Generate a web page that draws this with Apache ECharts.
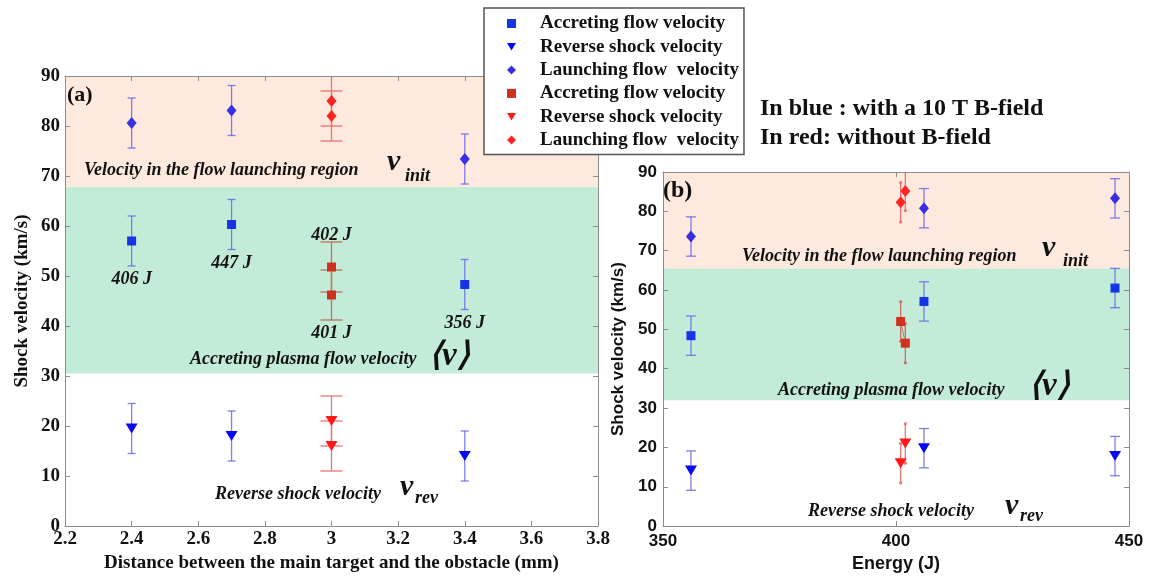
<!DOCTYPE html>
<html><head><meta charset="utf-8">
<script src="https://cdn.jsdelivr.net/npm/echarts@6/dist/echarts.min.js"></script>
<style>html,body{margin:0;padding:0;background:#fff}#c{width:1152px;height:578px}</style>
</head><body><div id="c"></div>
<script>
// ---------- Panel (a): shock velocity vs distance (mm) ----------
const distBlueA = [2.4, 2.7, 3.4];
const accBlueA  = [57.0, 60.3, 48.3];
const revBlueA  = [19.5, 18.0, 14.0];
const lauBlueA  = [80.6, 83.1, 73.4];
const energyLabelsBlueA = ['406 J', '447 J', '356 J'];
const distRedA  = [3.0, 3.0];
const accRedA   = [51.8, 46.2];
const revRedA   = [21.0, 16.0];
const lauRedA   = [85.0, 82.0];
const energyLabelsRedA = ['402 J', '401 J'];
// ---------- Panel (b): shock velocity vs energy (J) ----------
const energyBlueB = [356, 406, 447];
const accBlueB  = [48.4, 57.1, 60.5];
const revBlueB  = [14.1, 19.8, 17.8];
const lauBlueB  = [73.6, 80.8, 83.3];
const energyRedB = [401, 402];
const accRedB   = [52.0, 46.5];
const revRedB   = [16.0, 21.0];
const lauRedB   = [82.3, 85.2];
// error bar half-width (km/s), same for every point
const errorBar = 5;
// shaded velocity regions [from, to] in km/s
const launchRegionA = [67.8, 90];
const accretRegionA = [30.5, 67.8];
const launchRegionB = [65.5, 90];
const accretRegionB = [32.0, 65.5];
// legend names
const seriesNames = ['Accreting flow velocity', 'Reverse shock velocity', 'Launching flow  velocity'];
const redSuffix = ' [no field]';

const SERIF = '"Liberation Serif", "Times New Roman", serif';
const SANS = '"Liberation Sans", Arial, sans-serif';
const COL = {
  bAcc: '#1434e6', bRev: '#0808f2', bLau: '#3a2ee2',
  rAcc: '#d0301e', rRev: '#ff1818', rLau: '#ff2424',
  bErr: 'rgba(105,105,235,0.85)', rErr: '#f07272', rErrAcc: '#c47062',
  peach: '#fde9dd', green: '#c3ecd8', axis: '#8c8c8c'
};
const DOWN_TRI = 'path://M0,0L12,0L6,10Z';

const chart = echarts.init(document.getElementById('c'), null, {renderer: 'canvas'});

function pts(xs, ys) { return xs.map((x, i) => [x, ys[i]]); }
function errPts(xs, ys) { return xs.map((x, i) => [x, ys[i] - errorBar, ys[i] + errorBar]); }

function axisBase(extra) {
  return Object.assign({
    type: 'value', z: 3,
    axisLine: {show: true, onZero: false, lineStyle: {color: COL.axis, width: 1}},
    axisTick: {show: true, inside: true, length: 5, lineStyle: {color: COL.axis, width: 1}},
    splitLine: {show: false}
  }, extra);
}

function errSeries(xi, yi, data, color, capHalf, dots) {
  return {
    type: 'custom', xAxisIndex: xi, yAxisIndex: yi, data: data, z: 2, silent: true, clip: true,
    renderItem: function (params, api) {
      const x = api.value(0), lo = api.value(1), hi = api.value(2);
      const a = api.coord([x, hi]), b = api.coord([x, lo]);
      const cs = params.coordSys;
      const top = Math.max(a[1], cs.y), bot = Math.min(b[1], cs.y + cs.height);
      const st = {stroke: color, lineWidth: 1.3, fill: null};
      const ch = [{type: 'line', shape: {x1: a[0], y1: top, x2: b[0], y2: bot}, style: st}];
      if (capHalf) {
        if (a[1] >= cs.y) ch.push({type: 'line', shape: {x1: a[0] - capHalf, y1: a[1], x2: a[0] + capHalf, y2: a[1]}, style: st});
        ch.push({type: 'line', shape: {x1: b[0] - capHalf, y1: b[1], x2: b[0] + capHalf, y2: b[1]}, style: st});
      }
      if (dots) {
        if (a[1] >= cs.y) ch.push({type: 'circle', shape: {cx: a[0], cy: a[1], r: 1.6}, style: {fill: color}});
        ch.push({type: 'circle', shape: {cx: b[0], cy: b[1], r: 1.6}, style: {fill: color}});
      }
      return {type: 'group', children: ch};
    }
  };
}

const labelFont = {fontFamily: SERIF, fontStyle: 'italic', fontWeight: 'bold', fontSize: 18, color: '#151515'};

function scatter(name, xi, yi, data, symbol, size, color, rotate, extra) {
  return Object.assign({
    type: 'scatter', name: name, xAxisIndex: xi, yAxisIndex: yi, data: data, z: 4,
    symbol: symbol, symbolSize: size, symbolRotate: rotate || 0,
    itemStyle: {color: color, opacity: 1}, silent: true
  }, extra || {});
}

function bgSeries(xi, yi, launch, accret) {
  return {
    type: 'scatter', xAxisIndex: xi, yAxisIndex: yi, data: [], silent: true, z: 0,
    markArea: {
      silent: true,
      data: [
        [{yAxis: launch[0], itemStyle: {color: COL.peach}}, {yAxis: launch[1]}],
        [{yAxis: accret[0], itemStyle: {color: COL.green}}, {yAxis: accret[1]}]
      ]
    }
  };
}

const series = [
  bgSeries(0, 0, launchRegionA, accretRegionA),
  bgSeries(2, 2, launchRegionB, accretRegionB),
  // error bars panel (a)
  errSeries(0, 0, errPts(distBlueA, accBlueA).concat(errPts(distBlueA, revBlueA), errPts(distBlueA, lauBlueA)), COL.bErr, 4, false),
  errSeries(0, 0, errPts(distRedA, accRedA), COL.rErrAcc, 11, false),
  errSeries(0, 0, errPts(distRedA, revRedA).concat(errPts(distRedA, lauRedA)), COL.rErr, 11, false),
  // error bars panel (b)
  errSeries(2, 2, errPts(energyBlueB, accBlueB).concat(errPts(energyBlueB, revBlueB), errPts(energyBlueB, lauBlueB)), COL.bErr, 5, false),
  errSeries(2, 2, errPts(energyRedB, accRedB), COL.rErrAcc, 0, true),
  errSeries(2, 2, errPts(energyRedB, revRedB).concat(errPts(energyRedB, lauRedB)), COL.rErr, 0, true),
  // thin connecting line between red accreting points in panel (b)
  {type: 'line', xAxisIndex: 2, yAxisIndex: 2, data: pts(energyRedB, accRedB), showSymbol: false, silent: true, z: 2,
   lineStyle: {color: COL.rErrAcc, width: 1}},
  // panel (a) markers
  scatter(seriesNames[0], 0, 0, pts(distBlueA, accBlueA), 'rect', 9, COL.bAcc, 0, {
    label: Object.assign({show: true, position: 'bottom', distance: 25, formatter: p => energyLabelsBlueA[p.dataIndex]}, labelFont)
  }),
  scatter(seriesNames[1], 0, 0, pts(distBlueA, revBlueA), 'triangle', [12, 10], COL.bRev, 180),
  scatter(seriesNames[2], 0, 0, pts(distBlueA, lauBlueA), 'diamond', [10, 12], COL.bLau, 0),
  scatter(seriesNames[0] + redSuffix, 0, 0,
    distRedA.map((x, i) => ({value: [x, accRedA[i]], label: {position: i === 0 ? 'top' : 'bottom', distance: i === 0 ? 18 : 25}})),
    'rect', 9, COL.rAcc, 0, {
      label: Object.assign({show: true, formatter: p => energyLabelsRedA[p.dataIndex]}, labelFont)
    }),
  scatter(seriesNames[1] + redSuffix, 0, 0, pts(distRedA, revRedA), 'triangle', [12, 10], COL.rRev, 180),
  scatter(seriesNames[2] + redSuffix, 0, 0, pts(distRedA, lauRedA), 'diamond', [10, 12], COL.rLau, 0),
  // panel (b) markers
  scatter(seriesNames[0], 2, 2, pts(energyBlueB, accBlueB), 'rect', 9, COL.bAcc, 0),
  scatter(seriesNames[1], 2, 2, pts(energyBlueB, revBlueB), 'triangle', [12, 10], COL.bRev, 180),
  scatter(seriesNames[2], 2, 2, pts(energyBlueB, lauBlueB), 'diamond', [10, 12], COL.bLau, 0),
  scatter(seriesNames[0] + redSuffix, 2, 2, pts(energyRedB, accRedB), 'rect', 9, COL.rAcc, 0),
  scatter(seriesNames[1] + redSuffix, 2, 2, pts(energyRedB, revRedB), 'triangle', [12, 10], COL.rRev, 180),
  scatter(seriesNames[2] + redSuffix, 2, 2, pts(energyRedB, lauRedB), 'diamond', [10, 12], COL.rLau, 0)
];

const legendData = [];
['', redSuffix].forEach(suf => {
  legendData.push({name: seriesNames[0] + suf, icon: 'rect'});
  legendData.push({name: seriesNames[1] + suf, icon: DOWN_TRI});
  legendData.push({name: seriesNames[2] + suf, icon: 'diamond'});
});

const serifLbl = {fontFamily: SERIF, fontWeight: 'bold', fontSize: 19, color: '#111'};
const sansLbl = {fontFamily: SANS, fontWeight: 'bold', fontSize: 17, color: '#111'};

const it = 'italic bold 18px ' + SERIF;
const bigV = 'italic bold 30px ' + SERIF;
const sub = 'italic bold 18px ' + SERIF;
const angV = 'italic bold 33px ' + SERIF;
function txt(text, x, y, font) {
  return {type: 'text', x: x, y: y, z: 20, silent: true,
    style: {text: text, font: font, fill: '#111', align: 'left', verticalAlign: 'middle'}};
}

const option = {
  animation: false,
  backgroundColor: '#fff',
  grid: [
    {left: 65, top: 76, width: 533, height: 450, show: false},
    {left: 663, top: 172, width: 466, height: 357, show: false}
  ],
  xAxis: [
    axisBase({gridIndex: 0, min: 2.2, max: 3.8, interval: 0.2, position: 'bottom',
      axisLabel: Object.assign({margin: 4}, serifLbl),
      name: 'Distance between the main target and the obstacle (mm)', nameLocation: 'middle', nameGap: 28,
      nameTextStyle: {fontFamily: SERIF, fontWeight: 'bold', fontSize: 19, color: '#111'}}),
    axisBase({gridIndex: 0, min: 2.2, max: 3.8, interval: 0.2, position: 'top', axisLabel: {show: false}}),
    axisBase({gridIndex: 1, min: 350, max: 450, interval: 50, position: 'bottom',
      axisLabel: Object.assign({margin: 7}, sansLbl),
      name: 'Energy (J)', nameLocation: 'middle', nameGap: 27,
      nameTextStyle: {fontFamily: SANS, fontWeight: 'bold', fontSize: 18, color: '#111'}}),
    axisBase({gridIndex: 1, min: 350, max: 450, interval: 50, position: 'top', axisLabel: {show: false}})
  ],
  yAxis: [
    axisBase({gridIndex: 0, min: 0, max: 90, interval: 10, position: 'left',
      axisLabel: Object.assign({margin: 5}, serifLbl),
      name: 'Shock velocity (km/s)', nameLocation: 'middle', nameGap: 33,
      nameTextStyle: {fontFamily: SERIF, fontWeight: 'bold', fontSize: 19, color: '#111'}}),
    axisBase({gridIndex: 0, min: 0, max: 90, interval: 10, position: 'right', axisLabel: {show: false}}),
    axisBase({gridIndex: 1, min: 0, max: 90, interval: 10, position: 'left',
      axisLabel: Object.assign({margin: 6}, sansLbl),
      name: 'Shock velocity (km/s)', nameLocation: 'middle', nameGap: 36,
      nameTextStyle: {fontFamily: SANS, fontWeight: 'bold', fontSize: 17, color: '#111'}}),
    axisBase({gridIndex: 1, min: 0, max: 90, interval: 10, position: 'right', axisLabel: {show: false}})
  ],
  legend: {
    data: legendData, orient: 'vertical', left: 484, top: 8, z: 10,
    backgroundColor: '#fff', borderColor: '#555', borderWidth: 1.5,
    padding: [6, 5, 5, 23], itemGap: 4.3, itemWidth: 9, itemHeight: 9,
    formatter: n => n.replace(redSuffix, ''),
    textStyle: {fontFamily: SERIF, fontWeight: 'bold', fontSize: 19, color: '#111', lineHeight: 19, padding: [0, 0, 0, 19]},
    selectedMode: false
  },
  graphic: [
    txt('(a)', 67, 95, 'bold 22px ' + SERIF),
    txt('(b)', 663, 191, 'bold 24px ' + SERIF),
    txt('Velocity in the flow launching region', 84, 170, it),
    txt('v', 387, 162, bigV), txt('init', 405, 176, sub),
    txt('Accreting plasma flow velocity', 190, 359, it),
    txt('\u27E8v\u27E9', 429, 356, angV),
    txt('Reverse shock velocity', 215, 494, it),
    txt('v', 400, 487, bigV), txt('rev', 415, 498, sub),
    txt('Velocity in the flow launching region', 742, 256, it),
    txt('v', 1042, 248, bigV), txt('init', 1063, 261, sub),
    txt('Accreting plasma flow velocity', 778, 390, it),
    txt('\u27E8v\u27E9', 1029, 386, angV),
    txt('Reverse shock velocity', 808, 511, it),
    txt('v', 1005, 506, bigV), txt('rev', 1020, 516, sub),
    txt('In blue : with a 10 T B-field', 760, 109, 'bold 24px ' + SERIF),
    txt('In red: without B-field', 760, 138, 'bold 24px ' + SERIF)
  ],
  series: series
};
chart.setOption(option);
</script></body></html>
